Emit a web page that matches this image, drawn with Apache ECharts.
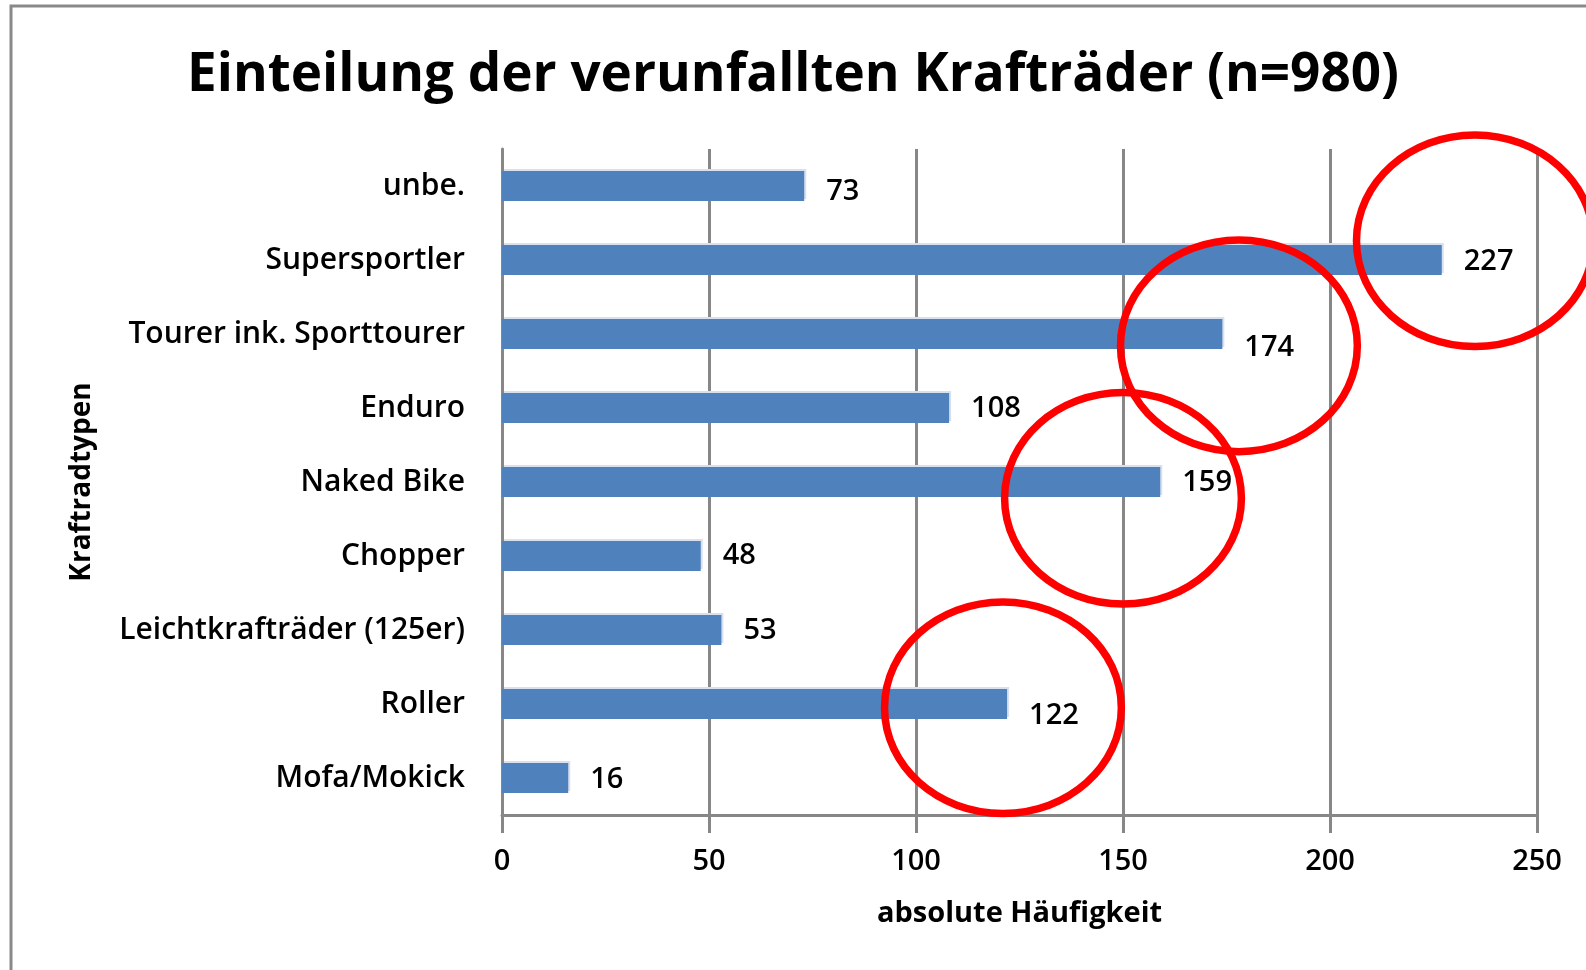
<!DOCTYPE html>
<html>
<head>
<meta charset="utf-8">
<title>Einteilung der verunfallten Krafträder</title>
<script src="https://cdn.jsdelivr.net/npm/echarts@6/dist/echarts.min.js"></script>
<style>
  html, body { margin: 0; padding: 0; background: #fff; }
  #chart { width: 1586px; height: 970px; }
</style>
</head>
<body>
<div id="chart"></div>
<script>
// Kraftradtypen, von oben nach unten
var categories = [
  "unbe.",
  "Supersportler",
  "Tourer ink. Sporttourer",
  "Enduro",
  "Naked Bike",
  "Chopper",
  "Leichtkrafträder (125er)",
  "Roller",
  "Mofa/Mokick"
];
var counts = [73, 227, 174, 108, 159, 48, 53, 122, 16];
var xTicks = [0, 50, 100, 150, 200, 250];

// rote Markierungen (Mitte in Achsenwerten)
var ringCategories = ["Supersportler", "Tourer ink. Sporttourer", "Naked Bike", "Roller"];
var ringValues = [235, 178, 150, 121];

var font = "'Open Sans', Lato, sans-serif";
var gridColor = "#878787";

// manche Beschriftungen sind im Original etwas nach unten verschoben
var labelDrop = [6, 2, 14, 1, 1, 0, 1, 12, 2];
var ringDrop = [-0.26, 0.16, 0.22, 0.05];

var chart = echarts.init(document.getElementById("chart"));

var barData = counts.map(function (v, i) {
  return { value: v, label: { offset: [0, labelDrop[i]] } };
});

var ringData = ringValues.map(function (v, i) {
  return [v, ringCategories[i], ringDrop[i]];
});

var option = {
  backgroundColor: "#fff",
  animation: false,
  title: {
    text: "Einteilung der verunfallten Krafträder (n=980)",
    left: "center",
    top: 44,
    textStyle: { fontFamily: font, fontSize: 53, fontWeight: "bold", color: "#000" }
  },
  graphic: [{
    type: "rect",
    shape: { x: 11, y: 6, width: 1600, height: 1000 },
    style: { fill: null, stroke: "#898989", lineWidth: 3 },
    silent: true
  }],
  grid: { left: 502, right: 49, top: 149, bottom: 155 },
  xAxis: {
    type: "value",
    min: 0,
    max: 250,
    interval: 50,
    name: "absolute Häufigkeit",
    nameLocation: "middle",
    nameGap: 84,
    nameTextStyle: { fontFamily: font, fontSize: 29, fontWeight: "bold", color: "#000" },
    axisLine: { show: true, lineStyle: { color: gridColor, width: 3 } },
    axisTick: { show: true, length: 18, lineStyle: { color: gridColor, width: 3 } },
    axisLabel: {
      fontFamily: font, fontSize: 29, fontWeight: 600, color: "#000", margin: 32,
      formatter: function (v) { return xTicks.indexOf(v) >= 0 ? String(v) : ""; }
    },
    splitLine: { show: true, lineStyle: { color: gridColor, width: 3 } }
  },
  yAxis: {
    type: "category",
    data: categories,
    inverse: true,
    name: "Kraftradtypen",
    nameLocation: "middle",
    nameGap: 406,
    nameRotate: 90,
    nameTextStyle: { fontFamily: font, fontSize: 28, fontWeight: "bold", color: "#000" },
    axisLine: { show: true, lineStyle: { color: gridColor, width: 3 } },
    axisTick: { show: false },
    axisLabel: { fontFamily: font, fontSize: 30, fontWeight: 600, color: "#000", margin: 37 }
  },
  series: [
    {
      type: "bar",
      data: barData,
      barWidth: 30,
      itemStyle: {
        color: "#4F81BD",
        shadowColor: "#d8e0ee",
        shadowOffsetX: 2,
        shadowOffsetY: -2,
        shadowBlur: 0
      },
      label: {
        show: true,
        position: "right",
        distance: 22,
        fontFamily: font,
        fontSize: 29,
        fontWeight: 600,
        color: "#000"
      }
    },
    {
      type: "custom",
      clip: false,
      silent: true,
      data: ringData,
      z: 10,
      renderItem: function (params, api) {
        var c = api.coord([api.value(0), api.value(1)]);
        var band = api.size([0, 1])[1];
        var unit = api.size([1, 0])[0];
        return {
          type: "ellipse",
          shape: {
            cx: c[0],
            cy: c[1] + api.value(2) * band,
            rx: 28.6 * unit,
            ry: 1.43 * band
          },
          style: { fill: null, stroke: "#ff0000", lineWidth: 7.5 }
        };
      }
    }
  ]
};

chart.setOption(option);
</script>
</body>
</html>
